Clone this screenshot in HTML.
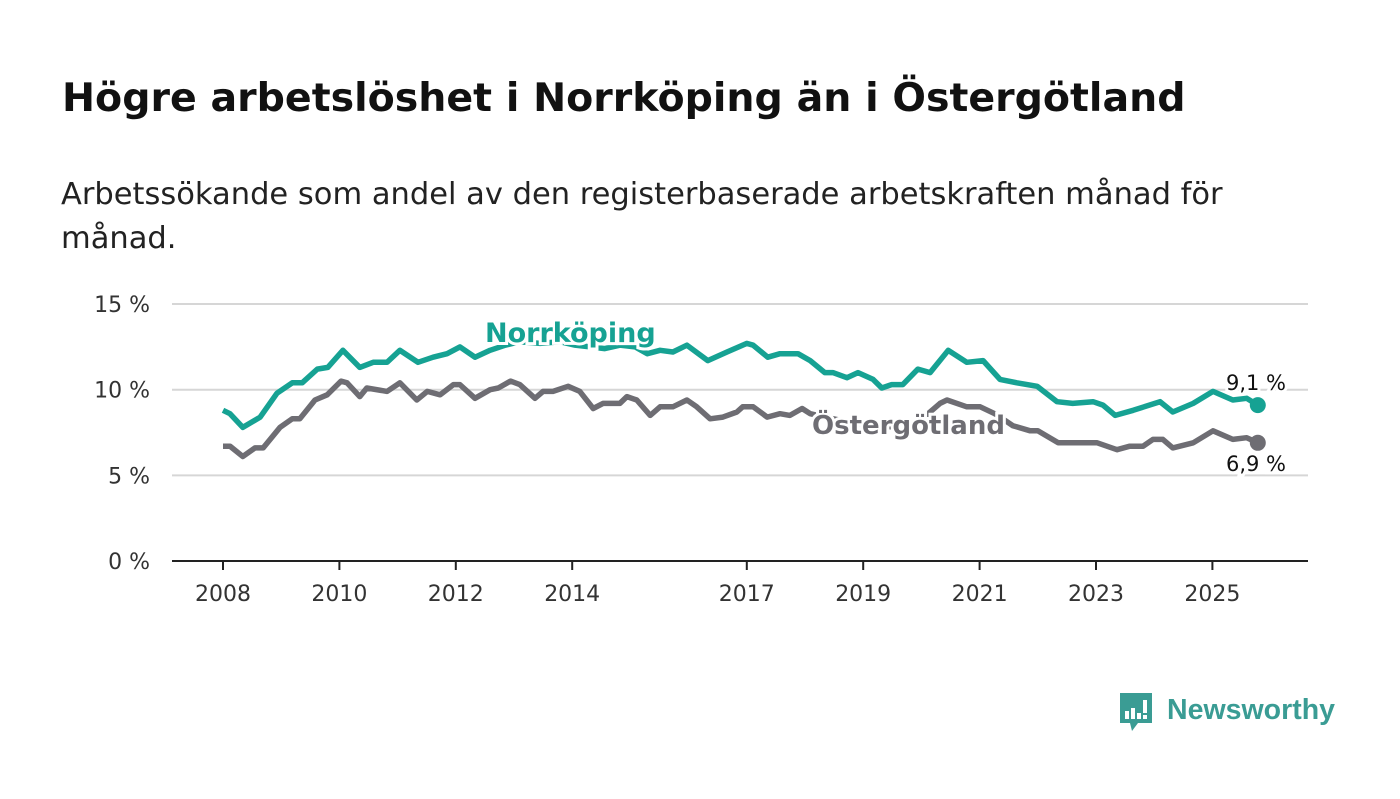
<!DOCTYPE html>
<html><head><meta charset="utf-8">
<style>
body{margin:0;background:#fff;width:1400px;height:794px;overflow:hidden;font-family:"Liberation Sans","DejaVu Sans",sans-serif;}
</style></head>
<body>
<svg id="chart" width="1400" height="794" xmlns="http://www.w3.org/2000/svg" font-family="'DejaVu Sans','Liberation Sans',sans-serif">
<rect width="1400" height="794" fill="#fff"/>
<text x="62" y="111" font-size="39.5" font-weight="bold" fill="#111">Högre arbetslöshet i Norrköping än i Östergötland</text>
<text x="61" y="204" font-size="30.5" fill="#222">Arbetssökande som andel av den registerbaserade arbetskraften månad för</text>
<text x="61" y="248" font-size="30.5" fill="#222">månad.</text>
<g id="grid"></g>
<g id="series"></g>
<g id="labels"></g>
<g>
<path d="M1120 693 h32 v30 h-14 l-6 8 l-2 -8 h-10 z" fill="#3a9c94"/>
<rect x="1125" y="711" width="4" height="8" fill="#fff"/>
<rect x="1131" y="708" width="4" height="11" fill="#fff"/>
<rect x="1137" y="713" width="4" height="6" fill="#fff"/>
<rect x="1143" y="700" width="4" height="13" fill="#fff"/>
<rect x="1143" y="715" width="4" height="4" fill="#fff"/>
<text x="1167" y="719" font-size="29" font-family="'Liberation Sans',sans-serif" font-weight="bold" fill="#3a9c94" textLength="168" lengthAdjust="spacingAndGlyphs">Newsworthy</text>
</g>
</svg>
<script>
const norrYears=[2008.0,2008.12,2008.34,2008.64,2008.93,2009.19,2009.36,2009.62,2009.80,2010.06,2010.35,2010.58,2010.82,2011.04,2011.35,2011.61,2011.85,2012.07,2012.33,2012.59,2012.85,2013.10,2013.45,2013.79,2014.05,2014.31,2014.56,2014.82,2015.08,2015.29,2015.51,2015.73,2015.97,2016.33,2016.66,2017.00,2017.11,2017.36,2017.57,2017.88,2018.09,2018.34,2018.48,2018.72,2018.91,2019.17,2019.32,2019.49,2019.68,2019.94,2020.15,2020.46,2020.78,2021.06,2021.35,2021.64,2021.99,2022.33,2022.60,2022.95,2023.12,2023.33,2023.64,2024.10,2024.32,2024.67,2025.01,2025.35,2025.59,2025.78];
const norrValues=[8.8,8.6,7.8,8.4,9.8,10.4,10.4,11.2,11.3,12.3,11.3,11.6,11.6,12.3,11.6,11.9,12.1,12.5,11.9,12.3,12.6,12.8,12.7,12.8,12.6,12.5,12.4,12.6,12.5,12.1,12.3,12.2,12.6,11.7,12.2,12.7,12.6,11.9,12.1,12.1,11.7,11.0,11.0,10.7,11.0,10.6,10.1,10.3,10.3,11.2,11.0,12.3,11.6,11.7,10.6,10.4,10.2,9.3,9.2,9.3,9.1,8.5,8.8,9.3,8.7,9.2,9.9,9.4,9.5,9.1];
const ostYears=[2008.0,2008.12,2008.34,2008.55,2008.69,2008.98,2009.19,2009.32,2009.58,2009.79,2010.03,2010.13,2010.35,2010.47,2010.82,2011.04,2011.33,2011.51,2011.73,2011.96,2012.07,2012.33,2012.59,2012.73,2012.94,2013.10,2013.36,2013.50,2013.67,2013.93,2014.13,2014.36,2014.53,2014.82,2014.94,2015.11,2015.34,2015.51,2015.73,2015.97,2016.14,2016.37,2016.59,2016.83,2016.93,2017.11,2017.35,2017.57,2017.74,2017.95,2018.09,2018.34,2018.77,2019.20,2019.63,2019.98,2020.32,2020.44,2020.78,2021.01,2021.26,2021.44,2021.57,2021.87,2022.00,2022.35,2022.60,2022.85,2023.02,2023.36,2023.58,2023.81,2023.98,2024.15,2024.32,2024.67,2025.01,2025.35,2025.59,2025.78];
const ostValues=[6.7,6.7,6.1,6.6,6.6,7.8,8.3,8.3,9.4,9.7,10.5,10.4,9.6,10.1,9.9,10.4,9.4,9.9,9.7,10.3,10.3,9.5,10.0,10.1,10.5,10.3,9.5,9.9,9.9,10.2,9.9,8.9,9.2,9.2,9.6,9.4,8.5,9.0,9.0,9.4,9.0,8.3,8.4,8.7,9.0,9.0,8.4,8.6,8.5,8.9,8.6,8.4,8.1,7.9,7.8,8.2,9.2,9.4,9.0,9.0,8.6,8.2,7.9,7.6,7.6,6.9,6.9,6.9,6.9,6.5,6.7,6.7,7.1,7.1,6.6,6.9,7.6,7.1,7.2,6.9];
const yTicks=[0,5,10,15];
const yTickLabels=["0 %","5 %","10 %","15 %"];
const xTicks=[2008,2010,2012,2014,2017,2019,2021,2023,2025];
const NS="http://www.w3.org/2000/svg";
const X=y=>223+(y-2008)*58.2;
const Y=v=>561-v*17.13;
function mk(tag,attrs,parent){const e=document.createElementNS(NS,tag);for(const k in attrs)e.setAttribute(k,attrs[k]);parent.appendChild(e);return e;}
const grid=document.getElementById('grid');
yTicks.forEach((t,i)=>{
  if(t>0){const l=mk('line',{x1:172,x2:1308,y1:Y(t),y2:Y(t),stroke:'#d6d6d6','stroke-width':2},grid);
  
  }
  const tx=mk('text',{x:150,y:Y(t)+8,'font-size':22,'text-anchor':'end',fill:'#333'},grid);
  tx.textContent=yTickLabels[i];
  
  
});
const ax=mk('line',{x1:172,x2:1308,y1:561,y2:561,stroke:'#222','stroke-width':2},grid);


xTicks.forEach(t=>{
  const tk=mk('line',{x1:X(t),x2:X(t),y1:561,y2:570,stroke:'#222','stroke-width':2},grid);
  
  
  const tx=mk('text',{x:X(t),y:601,'font-size':22,'text-anchor':'middle',fill:'#333'},grid);
  tx.textContent=String(t);
  
  
});
const ser=document.getElementById('series');
function line(ys,vs,color,name){
  const d=ys.map((y,i)=>(i?'L':'M')+X(y).toFixed(1)+' '+Y(vs[i]).toFixed(1)).join(' ');
  const p=mk('path',{d:d,fill:'none',stroke:color,'stroke-width':5.5,'stroke-linejoin':'round'},ser);
  
  
  const n=ys.length-1;
  const c=mk('circle',{cx:X(ys[n]),cy:Y(vs[n]),r:8,fill:color},ser);
  
  
}
line(ostYears,ostValues,'#6e6d73','ostergotland');
line(norrYears,norrValues,'#16a293','norrkoping');
const lab=document.getElementById('labels');
function label(x,y,txt,color,size,weight,name,anchor){
  const t=mk('text',{x:x,y:y,'font-size':size,'font-weight':weight,fill:color,stroke:'#fff','stroke-width':6,'paint-order':'stroke','text-anchor':anchor||'start'},lab);
  t.textContent=txt;
  
  
}
label(485,342,'Norrköping','#16a293',27,'bold','norrkoping-label');
label(812,434,'Östergötland','#6e6d73',26,'bold','ostergotland-label');
const nl=norrValues.length-1, ol=ostValues.length-1;
label(1256,Y(norrValues[nl])-15,norrValues[nl].toFixed(1).replace('.',',')+' %','#111',21,'normal','norrkoping-end-value','middle');
label(1256,Y(ostValues[ol])+28,ostValues[ol].toFixed(1).replace('.',',')+' %','#111',21,'normal','ostergotland-end-value','middle');
</script>
</body></html>
